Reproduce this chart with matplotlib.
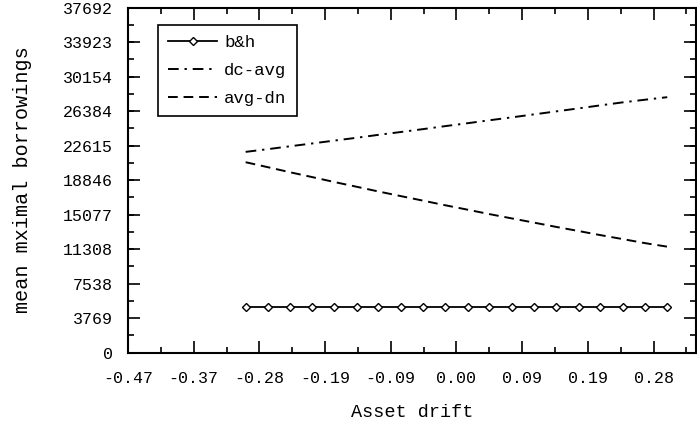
import matplotlib
matplotlib.use("Agg")
import matplotlib.pyplot as plt
from matplotlib.ticker import FixedLocator, AutoMinorLocator

plt.rcParams['font.family'] = ['Liberation Mono', 'DejaVu Sans Mono']

# data
drift = [-0.300, -0.268, -0.237, -0.205, -0.174, -0.142, -0.111, -0.079, -0.047, -0.016,
         0.016, 0.047, 0.079, 0.111, 0.142, 0.174, 0.205, 0.237, 0.268, 0.300]
bh = [5026] * 20
dc_avg = [21930, 22230, 22540, 22850, 23160, 23470, 23790, 24100, 24420, 24740,
          25060, 25380, 25700, 26030, 26350, 26680, 27010, 27340, 27620, 27900]
avg_dn = [20800, 20250, 19707, 19171, 18642, 18120, 17605, 17097, 16596, 16102,
          15615, 15135, 14662, 14196, 13737, 13285, 12840, 12402, 11971, 11580]

xticks = [-0.4675, -0.374, -0.2805, -0.187, -0.0935, 0.0, 0.0935, 0.187, 0.2805]
xticklabels = ["-0.47", "-0.37", "-0.28", "-0.19", "-0.09", "0.00", "0.09", "0.19", "0.28"]
yticks = [0, 3769, 7538, 11308, 15077, 18846, 22615, 26384, 30154, 33923, 37692]
yticklabels = [str(v) for v in yticks]

fig = plt.figure(figsize=(6.97, 4.29), dpi=100)
ax = fig.add_axes([0.1836, 0.1778, 0.8150, 0.8047])

ax.plot(drift, bh, color='black', lw=1.3, marker='D', ms=4, mfc='white', mec='black', mew=1.0, label='b&h')
ax.plot(drift, dc_avg, color='black', lw=1.4, dashes=(5.5, 3, 1.2, 3), label='dc-avg')
ax.plot(drift, avg_dn, color='black', lw=1.4, dashes=(5, 3), label='avg-dn')

ax.set_xlim(-0.4675, 0.341)
ax.set_ylim(0, 37692)
ax.xaxis.set_major_locator(FixedLocator(xticks))
ax.set_xticklabels(xticklabels)
ax.yaxis.set_major_locator(FixedLocator(yticks))
ax.set_yticklabels(yticklabels)
ax.xaxis.set_minor_locator(AutoMinorLocator(2))
ax.yaxis.set_minor_locator(AutoMinorLocator(2))

ax.tick_params(which='both', direction='in', top=True, right=True, width=1.2, labelsize=12)
ax.tick_params(which='major', length=8.5)
ax.tick_params(which='minor', length=4.3)
ax.tick_params(axis='x', which='major', pad=13)
ax.tick_params(axis='y', which='major', pad=11)
for s in ax.spines.values():
    s.set_linewidth(1.5)

ax.set_xlabel('Asset drift', fontsize=13.3, labelpad=13)
ax.set_ylabel('mean mximal borrowings', fontsize=14.5, labelpad=22)

leg = ax.legend(loc='upper left', bbox_to_anchor=(0.053, 0.95), fontsize=12.5, frameon=True,
                fancybox=False, edgecolor='black', framealpha=1, handlelength=2.8,
                handletextpad=0.4, borderpad=0.6, labelspacing=0.72, borderaxespad=0)
leg.get_frame().set_linewidth(1.2)

fig.savefig('out.png', dpi=100)
